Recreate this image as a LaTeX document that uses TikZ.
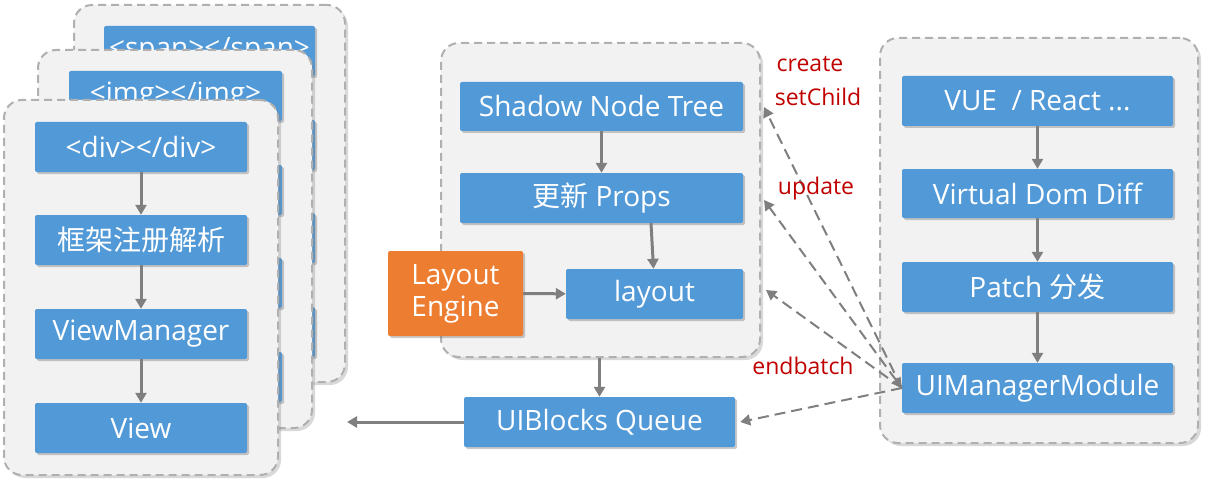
\documentclass[tikz,border=0pt]{standalone}
\usepackage{fontspec}
\setmainfont{Open Sans}
\newfontfamily\cjk{Noto Sans CJK SC}
\usetikzlibrary{arrows.meta,shadows,calc}
\definecolor{boxblue}{HTML}{5299D7}
\definecolor{engorange}{HTML}{ED7D31}
\definecolor{lblred}{HTML}{C00000}
\definecolor{cardfill}{HTML}{F2F2F2}
\definecolor{carddraw}{HTML}{B0B0B0}
\definecolor{arrgray}{HTML}{7F7F7F}
\begin{document}
\begin{tikzpicture}[x=1pt,y=-1pt,
 card/.style={draw=carddraw, fill=cardfill, line width=2pt, dash pattern=on 8pt off 5pt,
   rounded corners=18pt, inner sep=0pt,
   drop shadow={shadow xshift=3pt, shadow yshift=-3pt, opacity=0.3, fill=black!50}},
 bbox/.style={fill=boxblue, text=white, rounded corners=2pt, inner sep=0pt,
   font=\fontsize{28}{32}\selectfont,
   drop shadow={shadow xshift=2pt, shadow yshift=-2pt, opacity=0.35, fill=black!60}},
 obox/.style={bbox, fill=engorange, align=center},
 arr/.style={draw=arrgray, line width=3pt, -{Triangle[width=11pt,length=10pt]}},
 darr/.style={draw=arrgray, line width=2pt, dash pattern=on 11pt off 6pt, -{Triangle[width=11pt,length=10pt]}},
 lbl/.style={text=lblred, font=\fontsize{23}{27}\selectfont, inner sep=0pt}]
\useasboundingbox (0,0) rectangle (1212,492);

% back card
\node[card, minimum width=271pt, minimum height=377pt] (cardA) at (209.5,193.5) {};
\node[bbox, minimum width=211pt, minimum height=50pt] (a1) at (209.5,51) {<span></span>};
\node[bbox, minimum width=211pt, minimum height=50pt] (a2) at (209.5,145) {};
\node[bbox, minimum width=211pt, minimum height=50pt] (a3) at (209.5,238) {};
\node[bbox, minimum width=211pt, minimum height=50pt] (a4) at (209.5,332) {};

% middle card
\node[card, minimum width=274pt, minimum height=378pt] (cardB) at (175,239) {};
\node[bbox, minimum width=213pt, minimum height=50pt] (b1) at (175.5,96) {<img></img>};
\node[bbox, minimum width=213pt, minimum height=50pt] (b2) at (175.5,190) {};
\node[bbox, minimum width=213pt, minimum height=50pt] (b3) at (175.5,283) {};
\node[bbox, minimum width=213pt, minimum height=50pt] (b4) at (175.5,377) {};

% front card
\node[card, minimum width=274pt, minimum height=375pt] (cardC) at (141,287.5) {};
\node[bbox, minimum width=212pt, minimum height=50pt] (div) at (141,147) {<div></div>};
\node[bbox, minimum width=212pt, minimum height=50pt] (reg) at (141,240) {{\cjk 框架注册解析}};
\node[bbox, minimum width=212pt, minimum height=50pt] (vm) at (141,334) {ViewManager};
\node[bbox, minimum width=212pt, minimum height=50pt] (view) at (141,428) {View};
\draw[arr] (div) -- (reg);
\draw[arr] (reg) -- (vm);
\draw[arr] (vm) -- (view);

% shadow tree container
\node[card, minimum width=319pt, minimum height=314pt] (sc) at (600.5,200) {};
\node[bbox, minimum width=283pt, minimum height=49pt] (snt) at (601.5,106.5) {Shadow Node Tree};
\node[bbox, minimum width=283pt, minimum height=50pt] (props) at (601.5,198) {{\cjk 更新} Props};
\node[bbox, minimum width=177pt, minimum height=50pt] (lay) at (654.5,294) {layout};
\node[obox, minimum width=135pt, minimum height=85pt] (eng) at (455.5,293.5) {Layout\\Engine};
\draw[arr] (snt) -- (props);
\draw[arr] ([xshift=49.5pt]props.south) -- ([xshift=-1pt]lay.north);
\draw[arr] (eng) -- (lay);

\node[bbox, minimum width=271pt, minimum height=50pt] (uib) at (599.5,422) {UIBlocks Queue};
\draw[arr] (uib.north |- sc.south) -- (uib.north);
\coordinate (out) at (347,422);
\draw[arr] (uib.west) -- (out);

% right container
\node[card, minimum width=318pt, minimum height=405pt] (rc) at (1039,240.5) {};
\node[bbox, minimum width=271pt, minimum height=50pt] (vue) at (1037.5,101) {VUE\ \ / React ...};
\node[bbox, minimum width=271pt, minimum height=49pt] (vdd) at (1037.5,193.5) {Virtual Dom Diff};
\node[bbox, minimum width=271pt, minimum height=50pt] (patch) at (1037.5,287) {Patch {\cjk 分发}};
\node[bbox, minimum width=271pt, minimum height=50pt] (uim) at (1037.5,388) {UIManagerModule};
\draw[arr] (vue) -- (vdd);
\draw[arr] (vdd) -- (patch);
\draw[arr] (patch) -- (uim);

% dashed calls
\coordinate (c1) at (764,107);
\coordinate (c2) at (764,200);
\coordinate (c3) at (766,290);
\draw[darr] (uim.west) -- (c1);
\draw[darr, {Triangle[width=11pt,length=10pt]}-{Triangle[width=11pt,length=10pt]}] (uim.west) -- (c2);
\draw[darr] (uim.west) -- (c3);
\draw[darr] (uim.west) -- ([xshift=5pt]uib.east);

\node[lbl] (l1) at (810,64) {create};
\node[lbl] (l2) at (818,97) {setChild};
\node[lbl] (l3) at (816,189) {update};
\node[lbl] (l4) at (803,366) {endbatch};
\end{tikzpicture}
\end{document}
